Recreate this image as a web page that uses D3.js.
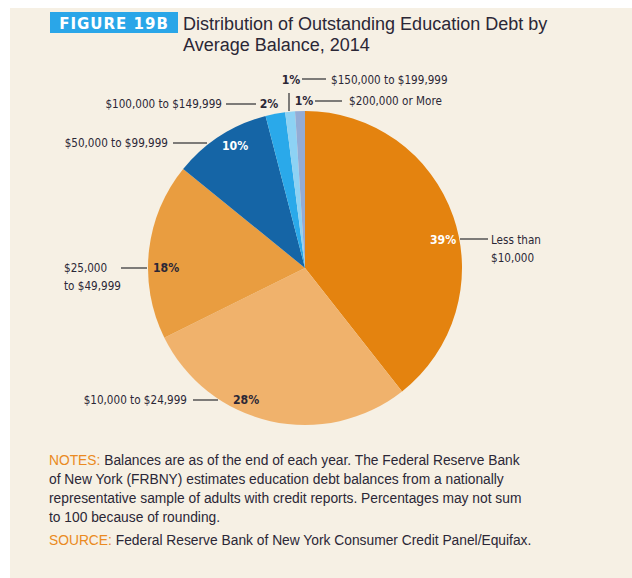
<!DOCTYPE html>
<html>
<head>
<meta charset="utf-8">
<script src="https://cdn.jsdelivr.net/npm/d3@7"></script>
<style>
  html, body { margin: 0; padding: 0; background: #ffffff; }
  svg { display: block; }
</style>
</head>
<body>
<svg id="chart" width="632" height="578"></svg>
<script>
// ---- data ----
const categories = [
  "Less than $10,000",
  "$10,000 to $24,999",
  "$25,000 to $49,999",
  "$50,000 to $99,999",
  "$100,000 to $149,999",
  "$150,000 to $199,999",
  "$200,000 or More"
];
const shares = [39, 28, 18, 10, 2, 1, 1];
const sliceColors = ["#e4830f", "#f0b26c", "#e99d40", "#1565a6", "#2aa9ea", "#8dd2f4", "#93acd5"];
const titleTag = "FIGURE 19B";
const titleLines = ["Distribution of Outstanding Education Debt by", "Average Balance, 2014"];
const notesLines = [
  "Balances are as of the end of each year. The Federal Reserve Bank",
  "of New York (FRBNY) estimates education debt balances from a nationally",
  "representative sample of adults with credit reports. Percentages may not sum",
  "to 100 because of rounding."
];
const sourceText = "Federal Reserve Bank of New York Consumer Credit Panel/Equifax.";

// ---- layout ----
const svg = d3.select("#chart");
const cx = 305, cy = 268, R = 157;
const dark = "#2b2736";
const labelFont = "'DejaVu Sans Condensed', 'Liberation Sans Narrow', sans-serif";
const bodyFont = "'Liberation Sans', Arial, sans-serif";
const labelSize = 11.6;

svg.append("rect").attr("x", 10).attr("y", 8).attr("width", 622).attr("height", 570).attr("fill", "#f6f0e4");

// title
svg.append("rect").attr("x", 50).attr("y", 12).attr("width", 128).attr("height", 21).attr("fill", "#2aa6e8");
svg.append("text").attr("x", 114).attr("y", 28.5).attr("text-anchor", "middle")
  .attr("font-family", "'DejaVu Sans', sans-serif").attr("font-weight", "bold").attr("font-size", 15)
  .attr("letter-spacing", 1).attr("fill", "#ffffff").text(titleTag);
titleLines.forEach((t, i) => {
  svg.append("text").attr("x", 183).attr("y", 29.5 + i * 21.5)
    .attr("font-family", bodyFont).attr("font-size", 18).attr("fill", dark).text(t);
});

// pie
const pie = d3.pie().sort(null).value(d => d)(shares);
const arc = d3.arc().innerRadius(0).outerRadius(R);
const g = svg.append("g").attr("transform", `translate(${cx},${cy})`);
g.selectAll("path").data(pie).join("path")
  .attr("d", arc).attr("fill", (d, i) => sliceColors[i]);

// annotations: percent label position, leader line, category label (layout only)
const ann = [
  { p: [443, 244], pc: "#fff", l: [[460, 239], [488, 239]], t: [491, 244], anchor: "start", lines: ["Less than", "$10,000"] },
  { p: [246, 404], pc: dark, l: [[193, 400], [218, 400]], t: [187, 404], anchor: "end", lines: null },
  { p: [166, 272], pc: dark, l: [[121, 268], [147, 268]], t: [64, 272], anchor: "start", lines: ["$25,000", "to $49,999"] },
  { p: [235, 150], pc: "#fff", l: [[173, 143], [207, 143]], t: [168, 147], anchor: "end", lines: null },
  { p: [269, 108], pc: dark, l: [[226, 104], [256, 104]], t: [222, 108], anchor: "end", lines: null },
  { p: [291, 84], pc: dark, l: [[302, 79], [326, 79]], t: [331, 84], anchor: "start", lines: null, extra: [[289, 93], [289, 111]] },
  { p: [304, 105], pc: dark, l: [[315, 101], [342, 101]], t: [349, 105], anchor: "start", lines: null }
];

ann.forEach((a, i) => {
  svg.append("text").attr("x", a.p[0]).attr("y", a.p[1]).attr("text-anchor", "middle")
    .attr("font-family", labelFont).attr("font-weight", "bold").attr("font-size", labelSize + 0.6)
    .attr("fill", a.pc).text(shares[i] + "%");
  svg.append("line").attr("x1", a.l[0][0]).attr("y1", a.l[0][1]).attr("x2", a.l[1][0]).attr("y2", a.l[1][1])
    .attr("stroke", "#555").attr("stroke-width", 1.5);
  if (a.extra) {
    svg.append("line").attr("x1", a.extra[0][0]).attr("y1", a.extra[0][1]).attr("x2", a.extra[1][0]).attr("y2", a.extra[1][1])
      .attr("stroke", "#555").attr("stroke-width", 1.5);
  }
  const lines = a.lines || [categories[i]];
  lines.forEach((ln, j) => {
    svg.append("text").attr("x", a.t[0]).attr("y", a.t[1] + j * 18).attr("text-anchor", a.anchor)
      .attr("font-family", labelFont).attr("font-size", labelSize).attr("fill", dark).text(ln);
  });
});

// notes
const notes = svg.append("g").attr("font-family", bodyFont).attr("font-size", 13.8).attr("fill", dark);
notesLines.forEach((t, i) => {
  const tx = notes.append("text").attr("x", 49).attr("y", 465 + i * 19);
  if (i === 0) tx.append("tspan").attr("fill", "#ea8a22").text("NOTES: ");
  tx.append("tspan").text(t);
});
const src = notes.append("text").attr("x", 49).attr("y", 545);
src.append("tspan").attr("fill", "#ea8a22").text("SOURCE: ");
src.append("tspan").text(sourceText);
</script>
</body>
</html>
